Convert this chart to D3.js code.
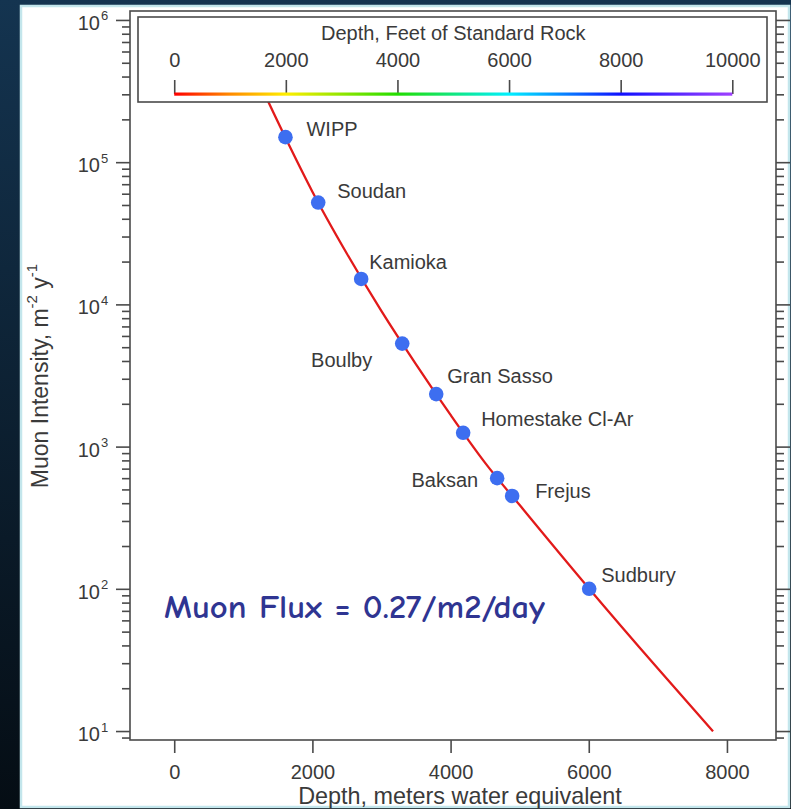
<!DOCTYPE html>
<html><head><meta charset="utf-8">
<script src="https://cdn.jsdelivr.net/npm/d3@7"></script>
<style>body{margin:0;background:#0c2233;overflow:hidden}</style>
</head><body>
<svg id="c" width="791" height="809"></svg>
<script>
// ---- data ----
const sites = ["WIPP","Soudan","Kamioka","Boulby","Gran Sasso","Homestake Cl-Ar","Baksan","Frejus","Sudbury"];
const siteDepth = [1610,2084,2706,3300,3792,4182,4674,4891,6006];   // m.w.e.
const siteFlux  = [1.5e5,5.2e4,1.51e4,5.3e3,2.34e3,1.25e3,600,450,100]; // m^-2 y^-1
const curveDepth = [1200,1600,2000,2500,3000,3500,4000,4500,5000,6000,7000,7800];
const curveFlux  = [3.9e5,1.52e5,6.2e4,2.27e4,8.97e3,3.79e3,1.67e3,769,388,101,27.5,9.95];
const xTicks = [0,2000,4000,6000,8000];
const yMajorExp = [1,2,3,4,5,6];
const ftTicks = [0,2000,4000,6000,8000,10000];
const ftToMwe = 0.3048*2.65;
const rainbowOffsets = [0,0.1,0.2,0.4,0.6,0.8,1];
const rainbowColors = ["#ff0000","#ff8a00","#ffee00","#22dd00","#00f0ff","#1010ff","#a040ff"];
// label layout (offset from point, anchor)
const labelLayout = [[21,-8,"start"],[19,-12,"start"],[8,-17,"start"],[-30,16,"end"],[11,-18,"start"],[18,-14,"start"],[-19,2,"end"],[23,-5,"start"],[12,-14,"start"]];

const svg = d3.select("#c");
const font = "'Liberation Sans', Arial, Helvetica, sans-serif";
const textCol = "#3a3a3a", axisCol = "#4a4a4a";

// background
const defs = svg.append("defs");
const bg = defs.append("linearGradient").attr("id","bg").attr("x1",0).attr("y1",0).attr("x2",0).attr("y2",1);
bg.append("stop").attr("offset",0).attr("stop-color","#143450");
bg.append("stop").attr("offset",1).attr("stop-color","#050d14");
svg.append("rect").attr("width",791).attr("height",809).attr("fill","url(#bg)");
svg.append("rect").attr("x",21).attr("y",6).attr("width",768).attr("height",801)
  .attr("fill","#fff").attr("stroke","#c3e6ec").attr("stroke-width",2.5);

// scales
const L=130, R=776, T=11, B=740;
const x = d3.scaleLinear().domain([-640, 8710]).range([L, R]);
const y = d3.scaleLog().domain([8.65, 1.156e6]).range([B, T]);

// frame
svg.append("rect").attr("x",L).attr("y",T).attr("width",R-L).attr("height",B-T)
  .attr("fill","none").attr("stroke",axisCol).attr("stroke-width",1.6);

// y ticks (log) both sides, outward
const yTickVals = y.ticks().filter(v => v>=y.domain()[0] && v<=y.domain()[1]);
const isMajor = v => Math.abs(Math.log10(v) - Math.round(Math.log10(v))) < 1e-9;
const yl = d3.axisLeft(y).tickValues(yTickVals).tickFormat("").tickSizeOuter(0);
const gl = svg.append("g").attr("transform",`translate(${L},0)`).call(yl);
const yr = d3.axisRight(y).tickValues(yTickVals).tickFormat("").tickSizeOuter(0);
const gr = svg.append("g").attr("transform",`translate(${R},0)`).call(yr);
[gl,gr].forEach((g,i)=>{
  g.select(".domain").remove();
  g.selectAll(".tick line").attr("stroke",axisCol).attr("stroke-width",1.6)
    .attr("x2", d => (i===0?-1:1)*(isMajor(d)?14:8));
});
// y labels
yMajorExp.forEach(e=>{
  svg.append("text").attr("x",100).attr("y",y(Math.pow(10,e))+3)
    .attr("text-anchor","end").attr("dominant-baseline","central")
    .attr("font-family",font).attr("font-size",20).attr("fill",textCol).text("10");
  svg.append("text").attr("x",101).attr("y",y(Math.pow(10,e))-4)
    .attr("dominant-baseline","central")
    .attr("font-family",font).attr("font-size",13).attr("fill",textCol).text(e);
});

// x axis
const xa = d3.axisBottom(x).tickValues(xTicks).tickFormat(d3.format("d")).tickSize(13).tickSizeOuter(0);
const gx = svg.append("g").attr("transform",`translate(0,${B})`).call(xa);
gx.select(".domain").remove();
gx.selectAll(".tick line").attr("stroke",axisCol).attr("stroke-width",1.6);
gx.selectAll(".tick text").attr("font-family",font).attr("font-size",20).attr("fill",textCol)
  .attr("y",32).attr("dy","0.35em");

// axis titles
svg.append("text").attr("x",460).attr("y",796).attr("text-anchor","middle")
  .attr("dominant-baseline","central").attr("font-family",font).attr("font-size",23.4).attr("fill",textCol)
  .text("Depth, meters water equivalent");
const yt = svg.append("text").attr("transform","translate(40,376) rotate(-90)").attr("text-anchor","middle")
  .attr("dominant-baseline","central").attr("font-family",font).attr("font-size",23).attr("fill",textCol);
yt.append("tspan").text("Muon Intensity, m");
yt.append("tspan").attr("font-size",15).attr("dy",-9).text("-2");
yt.append("tspan").attr("dy",9).text(" y");
yt.append("tspan").attr("font-size",15).attr("dy",-9).text("-1");

// curve
const pts = curveDepth.map((d,i)=>[d, curveFlux[i]]);
svg.append("path").datum(pts)
  .attr("d", d3.line().x(d=>x(d[0])).y(d=>y(d[1])).curve(d3.curveMonotoneX))
  .attr("fill","none").attr("stroke","#e21a1a").attr("stroke-width",2.3);

// points
const sdata = sites.map((s,i)=>({name:s, d:siteDepth[i], f:siteFlux[i], lay:labelLayout[i]}));
svg.selectAll("circle.site").data(sdata).join("circle").attr("class","site")
  .attr("cx",d=>x(d.d)).attr("cy",d=>y(d.f)).attr("r",7.3).attr("fill","#3d6ef0");
svg.selectAll("text.site").data(sdata).join("text").attr("class","site")
  .attr("x",d=>x(d.d)+d.lay[0]).attr("y",d=>y(d.f)+d.lay[1])
  .attr("text-anchor",d=>d.lay[2]).attr("dominant-baseline","central")
  .attr("font-family",font).attr("font-size",20).attr("fill",textCol).text(d=>d.name);

// legend
const lg = svg.append("g");
lg.append("rect").attr("x",138).attr("y",17).attr("width",629).attr("height",85)
  .attr("fill","#fff").attr("stroke",axisCol).attr("stroke-width",1.6);
const ft = d3.scaleLinear().domain([0,10000]).range([x(0), x(10000*ftToMwe)]);
const rg = defs.append("linearGradient").attr("id","rb").attr("gradientUnits","userSpaceOnUse")
  .attr("x1",ft(0)).attr("x2",ft(10000)).attr("y1",0).attr("y2",0);
rainbowOffsets.forEach((o,i)=>rg.append("stop").attr("offset",o).attr("stop-color",rainbowColors[i]));
lg.append("text").attr("x",(ft(0)+ft(10000))/2).attr("y",33).attr("text-anchor","middle")
  .attr("dominant-baseline","central").attr("font-family",font).attr("font-size",20).attr("fill",textCol)
  .text("Depth, Feet of Standard Rock");
const fa = d3.axisTop(ft).tickValues(ftTicks).tickFormat(d3.format("d")).tickSize(14).tickSizeOuter(0);
const gf = lg.append("g").attr("transform","translate(0,94)").call(fa);
gf.select(".domain").remove();
gf.selectAll(".tick line").attr("stroke",axisCol).attr("stroke-width",1.6);
gf.selectAll(".tick text").attr("font-family",font).attr("font-size",20).attr("fill",textCol)
  .attr("y",-34).attr("dy","0.35em");
lg.append("rect").attr("x",ft(0)).attr("y",92.5).attr("width",ft(10000)-ft(0)).attr("height",3.2).attr("fill","url(#rb)");

// annotation
svg.append("text").attr("x",164).attr("y",607).attr("dominant-baseline","central")
  .attr("font-family","'Comic Sans MS', 'Comic Neue', 'DejaVu Sans', sans-serif").attr("font-weight",700).attr("font-size",33)
  .attr("fill","#2f3592").attr("textLength",381).attr("lengthAdjust","spacingAndGlyphs")
  .text("Muon Flux = 0.27/m2/day");
</script>
</body></html>
